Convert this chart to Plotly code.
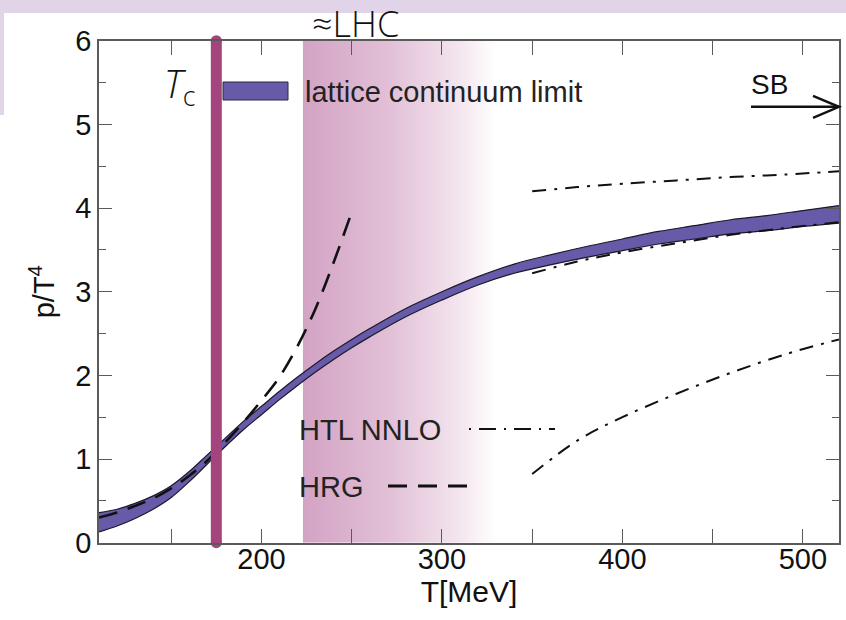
import plotly.graph_objects as go

# ---- data -------------------------------------------------------------
# lattice continuum-limit band (lower / upper edge of p/T^4)
T_lat = [110, 120, 130, 140, 150, 160, 170, 180, 190, 200, 210, 220, 230, 240,
         250, 260, 280, 300, 320, 340, 360, 380, 400, 420, 440, 460, 480, 500, 520]
p_lat_low = [0.13, 0.20, 0.29, 0.40, 0.54, 0.73, 0.94, 1.15, 1.35, 1.53, 1.71,
             1.88, 2.04, 2.19, 2.33, 2.46, 2.70, 2.90, 3.08, 3.22, 3.32, 3.41,
             3.49, 3.57, 3.63, 3.69, 3.73, 3.78, 3.82]
p_lat_high = [0.36, 0.40, 0.47, 0.56, 0.68, 0.85, 1.05, 1.25, 1.45, 1.63, 1.81,
              1.98, 2.14, 2.29, 2.43, 2.56, 2.80, 3.00, 3.18, 3.33, 3.44, 3.54,
              3.63, 3.72, 3.79, 3.86, 3.91, 3.97, 4.03]

# hadron resonance gas
T_hrg = [110, 120, 130, 140, 150, 160, 170, 180, 190, 200, 210, 220, 230, 240, 250]
p_hrg = [0.30, 0.36, 0.44, 0.53, 0.65, 0.80, 0.98, 1.20, 1.44, 1.70, 1.98,
         2.35, 2.80, 3.35, 3.95]

# HTL NNLO (upper, central, lower)
T_htl = [350, 375, 400, 430, 460, 490, 520]
p_htl_up = [4.20, 4.25, 4.29, 4.33, 4.37, 4.40, 4.44]
p_htl_mid = [3.22, 3.36, 3.47, 3.58, 3.68, 3.76, 3.83]
p_htl_low = [0.82, 1.22, 1.50, 1.78, 2.03, 2.25, 2.43]

T_c = 175            # MeV
T_lhc = [223, 330]   # LHC temperature range (fades out)
p_sb = 5.21          # Stefan-Boltzmann limit

x_range = [110, 520]
y_range = [0, 6]
x_tickvals = [200, 300, 400, 500]
y_tickvals = [0, 1, 2, 3, 4, 5, 6]

# ---- styling ------------------------------------------------------------
W, H = 846, 620
L, R, T, B = 99, 839, 40.7, 542.7   # plot frame in page pixels
FONT = "Liberation Sans, Arial, sans-serif"
LIGHT = "Open Sans, Noto Sans, sans-serif"
BAND = "#675AA9"
TC_COL = "#A4447E"
AXIS = "#5a5a5a"
PAGE = "#E2D4E8"


def px(x):
    """page pixel -> paper x (paper spans the whole page)"""
    return x / W


def py(y):
    """page pixel (from top) -> paper y"""
    return 1 - y / H


fig = go.Figure()

# LHC shading with horizontal fade
fig.add_trace(go.Scatter(
    x=[T_lhc[0], T_lhc[1], T_lhc[1], T_lhc[0], T_lhc[0]],
    y=[y_range[0], y_range[0], y_range[1], y_range[1], y_range[0]],
    mode="lines", line=dict(width=0), fill="toself",
    fillgradient=dict(type="horizontal", start=T_lhc[0], stop=T_lhc[1],
                      colorscale=[[0, "rgb(211,163,196)"],
                                  [0.45, "rgb(226,192,215)"],
                                  [0.8, "rgb(243,228,238)"],
                                  [1, "rgb(255,255,255)"]]),
    hoverinfo="skip", showlegend=False))

# lattice band
fig.add_trace(go.Scatter(x=T_lat, y=p_lat_low, mode="lines",
                         line=dict(color="#1a1a2a", width=1.2, shape="spline"),
                         showlegend=False, hoverinfo="skip"))
fig.add_trace(go.Scatter(x=T_lat, y=p_lat_high, mode="lines", fill="tonexty",
                         fillcolor=BAND,
                         line=dict(color="#1a1a2a", width=1.2, shape="spline"),
                         showlegend=False, hoverinfo="skip"))

# HRG
fig.add_trace(go.Scatter(x=T_hrg, y=p_hrg, mode="lines",
                         line=dict(color="#111", width=2.6, dash="19px,11px",
                                   shape="spline"),
                         showlegend=False, hoverinfo="skip"))

# HTL NNLO curves
for arr in (p_htl_up, p_htl_mid, p_htl_low):
    fig.add_trace(go.Scatter(x=T_htl, y=arr, mode="lines",
                             line=dict(color="#111", width=2,
                                       dash="14px,8px,3px,8px", shape="spline"),
                             showlegend=False, hoverinfo="skip"))

# T_c line with rounded ends
fig.add_trace(go.Scatter(x=[T_c, T_c], y=y_range, mode="lines+markers",
                         line=dict(color=TC_COL, width=11),
                         marker=dict(color=TC_COL, size=11, symbol="circle"),
                         cliponaxis=False, showlegend=False, hoverinfo="skip"))

# SB arrow position in paper units
sb_y = py(B - (p_sb - y_range[0]) / (y_range[1] - y_range[0]) * (B - T))
head = 11 / H
shapes = [
    # tinted page edge along the top and down the left side
    dict(type="path", xref="paper", yref="paper",
         path=(f"M 0,1 L 1,1 L 1,{py(13)} L {px(4)},{py(13)} "
               f"L {px(4)},{py(115)} L 0,{py(115)} Z"),
         fillcolor=PAGE, line=dict(width=0), layer="below"),
    # legend sample for the lattice band
    dict(type="rect", xref="paper", yref="paper",
         x0=px(223), x1=px(288), y0=py(100), y1=py(82),
         fillcolor=BAND, line=dict(color="#2a2a40", width=1)),
    # HRG legend sample
    dict(type="line", xref="paper", yref="paper",
         x0=px(388), x1=px(472), y0=py(486), y1=py(486),
         line=dict(color="#111", width=3, dash="19px,11px")),
    # HTL legend sample
    dict(type="line", xref="paper", yref="paper",
         x0=px(469), x1=px(555), y0=py(429), y1=py(429),
         line=dict(color="#111", width=2, dash="2px,8px,17px,8px")),
    # SB arrow
    dict(type="line", xref="paper", yref="paper",
         x0=px(751), x1=px(R), y0=sb_y, y1=sb_y,
         line=dict(color="#111", width=2.4)),
    dict(type="path", xref="paper", yref="paper",
         path=(f"M {px(813)},{sb_y + head} L {px(R)},{sb_y} "
               f"L {px(813)},{sb_y - head}"),
         line=dict(color="#111", width=2.4)),
]

annotations = [
    dict(text="lattice continuum limit", xref="paper", yref="paper",
         x=px(303), y=py(92), xanchor="left", yanchor="middle",
         showarrow=False, font=dict(family=FONT, size=29, color="#222")),
    dict(text="HTL NNLO", xref="paper", yref="paper",
         x=px(297), y=py(430), xanchor="left", yanchor="middle",
         showarrow=False, font=dict(family=FONT, size=29, color="#222")),
    dict(text="HRG", xref="paper", yref="paper",
         x=px(297), y=py(487), xanchor="left", yanchor="middle",
         showarrow=False, font=dict(family=FONT, size=29, color="#222")),
    dict(text="SB", xref="paper", yref="paper",
         x=px(749), y=py(84), xanchor="left", yanchor="middle",
         showarrow=False, font=dict(family=FONT, size=28, color="#111")),
    dict(text="<i>T</i><sub>c</sub>", xref="paper", yref="paper",
         x=px(197), y=py(86), xanchor="right", yanchor="middle",
         showarrow=False, font=dict(family=LIGHT, size=38, color="#111",
                                    weight=300)),
    dict(text="≈LHC", xref="paper", yref="paper",
         x=px(310), y=py(24), xanchor="left", yanchor="middle",
         showarrow=False, font=dict(family=LIGHT, size=36, color="#111",
                                    weight=300)),
]

axis_common = dict(showline=True, linecolor=AXIS, linewidth=1.6, mirror="ticks",
                   ticks="inside", tickcolor=AXIS, tickwidth=1.4,
                   showgrid=False, zeroline=False,
                   tickfont=dict(family=FONT, size=29, color="#111"))

fig.update_layout(
    width=W, height=H,
    margin=dict(l=0, r=0, t=0, b=0, autoexpand=False),
    paper_bgcolor="white", plot_bgcolor="white",
    shapes=shapes, annotations=annotations,
    xaxis=dict(range=x_range, tickvals=x_tickvals, ticklen=14,
               domain=[L / W, R / W],
               ticklabelstandoff=-10,
               minor=dict(dtick=50, tick0=0, ticklen=14, ticks="inside",
                          tickcolor=AXIS, tickwidth=1.4),
               title=dict(text="T[MeV]", standoff=0,
                          font=dict(family=FONT, size=30, color="#111")),
               **axis_common),
    yaxis=dict(range=y_range, tickvals=y_tickvals, ticklen=13,
               domain=[1 - B / H, 1 - T / H],
               minor=dict(dtick=0.5, tick0=0, ticklen=7, ticks="inside",
                          tickcolor=AXIS, tickwidth=1.4),
               title=dict(text="p/T<sup>4</sup>", standoff=12,
                          font=dict(family=FONT, size=29, color="#111")),
               **axis_common),
)

fig.write_html("out.html")
